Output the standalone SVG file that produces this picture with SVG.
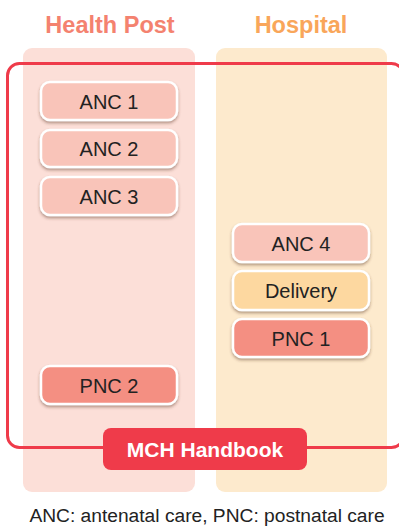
<svg xmlns="http://www.w3.org/2000/svg" width="399" height="527" viewBox="0 0 399 527">
<defs>
<filter id="sh" x="-20%" y="-30%" width="140%" height="170%">
<feDropShadow dx="0" dy="2" stdDeviation="1.8" flood-color="#5a3020" flood-opacity="0.45"/>
</filter>
<style>
.col-title{font-family:"Liberation Sans",Arial,sans-serif;font-weight:bold;font-size:23.5px;text-anchor:middle}
.node rect{stroke:#fff;stroke-width:2.5;filter:url(#sh)}
.node text{font-family:"Liberation Sans",Arial,sans-serif;font-size:20px;fill:#222;text-anchor:middle}
.anc{fill:#F9C4B9}
.del{fill:#FDD8A0}
.pnc{fill:#F48F82}
</style>
</defs>
<rect x="0" y="0" width="399" height="527" fill="#fff"/>
<g id="col-health-post">
<rect x="23" y="48" width="172" height="444" rx="9" fill="#FCDFD8"/>
<text class="col-title" x="110" y="33" fill="#F4826F">Health Post</text>
</g>
<g id="col-hospital">
<rect x="216" y="48" width="171" height="444" rx="9" fill="#FDEACD"/>
<text class="col-title" x="301" y="33" fill="#F9A65A">Hospital</text>
</g>
<g id="mch-frame">
<rect x="7.5" y="63.5" width="396" height="384" rx="12" fill="none" stroke="#EF3B4A" stroke-width="3"/>
</g>
<g id="connectors"></g>
<g id="anc1" class="node"><rect class="anc" x="41" y="82" width="136" height="38" rx="9"/><text x="109" y="108.5">ANC 1</text></g>
<g id="anc2" class="node"><rect class="anc" x="41" y="130" width="136" height="37" rx="9"/><text x="109" y="156">ANC 2</text></g>
<g id="anc3" class="node"><rect class="anc" x="41" y="177" width="136" height="38" rx="9"/><text x="109" y="203.5">ANC 3</text></g>
<g id="anc4" class="node"><rect class="anc" x="233" y="224" width="136" height="38" rx="9"/><text x="301" y="250.5">ANC 4</text></g>
<g id="delivery" class="node"><rect class="del" x="233" y="271" width="136" height="39" rx="9"/><text x="301" y="297.5">Delivery</text></g>
<g id="pnc1" class="node"><rect class="pnc" x="233" y="319" width="136" height="38" rx="9"/><text x="301" y="345.5">PNC 1</text></g>
<g id="pnc2" class="node"><rect class="pnc" x="41" y="366" width="136" height="38" rx="9"/><text x="109" y="392.5">PNC 2</text></g>
<g id="mch-handbook">
<rect x="103" y="428" width="204" height="42" rx="8" fill="#EF3B4A"/>
<text x="205" y="456.5" font-family="Liberation Sans,Arial,sans-serif" font-weight="bold" font-size="21" fill="#fff" text-anchor="middle">MCH Handbook</text>
</g>
<text x="207" y="522" font-family="Liberation Sans,Arial,sans-serif" font-size="19.2" fill="#222" text-anchor="middle">ANC: antenatal care, PNC: postnatal care</text>
</svg>
